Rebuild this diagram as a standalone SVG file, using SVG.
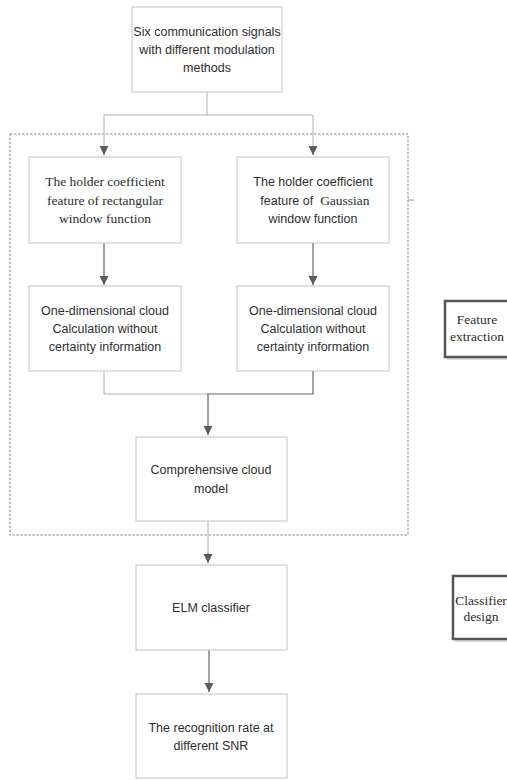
<svg xmlns="http://www.w3.org/2000/svg" width="507" height="780" viewBox="0 0 507 780">
<defs>
<marker id="a" markerWidth="10" markerHeight="10" refX="9" refY="5" orient="auto" markerUnits="userSpaceOnUse" viewBox="0 0 10 10">
<path d="M0,0.5 L9,5 L0,9.5 Z" fill="#5a5a5a"/>
</marker>
</defs>
<style>
.box{fill:#fff;stroke:#c4c4c4;stroke-width:1}
.sans{font-family:"Liberation Sans","DejaVu Sans",sans-serif;font-size:12.5px;fill:#2e2e2e;text-anchor:middle}
.serif{font-family:"Liberation Serif","DejaVu Serif",serif;font-size:13.5px;fill:#2e2e2e;text-anchor:middle}
.lt{fill:none;stroke:#b0b0b0;stroke-width:1}
.dk{fill:none;stroke:#666;stroke-width:1.2}
.lab{fill:#fff;stroke:#555;stroke-width:2.5}
</style>
<rect width="507" height="780" fill="#fff"/>
<rect x="10" y="134" width="398" height="401" fill="none" stroke="#888" stroke-width="1" stroke-dasharray="2.5,1.5"/>
<line x1="408" y1="200" x2="414" y2="200" stroke="#999" stroke-width="1"/>
<g id="connectors">
<polyline class="lt" points="207,92 207,115 104,115 104,148"/>
<polyline class="lt" points="207,115 313,115 313,148"/>
<line class="dk" x1="104" y1="148" x2="104" y2="155" marker-end="url(#a)"/>
<line class="dk" x1="313" y1="148" x2="313" y2="155" marker-end="url(#a)"/>
<line class="dk" x1="104" y1="243" x2="104" y2="285" marker-end="url(#a)"/>
<line class="dk" x1="313" y1="243" x2="313" y2="285" marker-end="url(#a)"/>
<polyline class="lt" points="104,371 104,394 208,394"/>
<polyline class="dk" points="313,371 313,394 208,394 208,435" marker-end="url(#a)"/>
<line class="lt" x1="208" y1="521" x2="208" y2="555"/>
<line class="dk" x1="208" y1="553" x2="208" y2="563" marker-end="url(#a)"/>
<line class="dk" x1="209" y1="650" x2="209" y2="692" marker-end="url(#a)"/>
</g>
<g id="n1">
<rect class="box" x="132" y="7" width="150" height="85"/>
<text class="sans" x="207" y="36">Six communication signals</text>
<text class="sans" x="207" y="54">with different modulation</text>
<text class="sans" x="207" y="72">methods</text>
</g>
<g id="n2">
<rect class="box" x="29" y="157" width="152" height="86"/>
<text class="serif" x="105" y="186">The holder coefficient</text>
<text class="serif" x="105" y="205">feature of rectangular</text>
<text class="serif" x="105" y="223">window function</text>
</g>
<g id="n3">
<rect class="box" x="237" y="157" width="152" height="86"/>
<text class="sans" x="313" y="186">The holder coefficient</text>
<text class="sans" x="315" y="205" xml:space="preserve">feature of  <tspan style="font-family:'Liberation Serif',serif;font-size:13.5px">Gaussian</tspan></text>
<text class="sans" x="313" y="223">window function</text>
</g>
<g id="n4">
<rect class="box" x="29" y="286" width="152" height="85"/>
<text class="sans" x="105" y="315">One-dimensional cloud</text>
<text class="sans" x="105" y="333">Calculation without</text>
<text class="sans" x="105" y="351">certainty information</text>
</g>
<g id="n5">
<rect class="box" x="237" y="286" width="152" height="85"/>
<text class="sans" x="313" y="315">One-dimensional cloud</text>
<text class="sans" x="313" y="333">Calculation without</text>
<text class="sans" x="313" y="351">certainty information</text>
</g>
<g id="n6">
<rect class="box" x="136" y="437" width="151" height="84"/>
<text class="sans" x="211" y="474">Comprehensive cloud</text>
<text class="sans" x="211" y="493">model</text>
</g>
<g id="n7">
<rect class="box" x="136" y="565" width="151" height="85"/>
<text class="sans" x="211" y="612">ELM classifier</text>
</g>
<g id="n8">
<rect class="box" x="136" y="694" width="151" height="84"/>
<text class="sans" x="211" y="732">The recognition rate at</text>
<text class="sans" x="211" y="750">different SNR</text>
</g>
<g id="n9">
<rect x="447" y="303" width="66" height="57" fill="#ddd"/>
<rect class="lab" x="445" y="301" width="66" height="56"/>
<text class="serif" x="477" y="324">Feature</text>
<text class="serif" x="477" y="341">extraction</text>
</g>
<g id="n10">
<rect x="455" y="578" width="60" height="64" fill="#ddd"/>
<rect class="lab" x="453" y="576" width="60" height="63"/>
<text class="serif" x="481" y="605">Classifier</text>
<text class="serif" x="481" y="621">design</text>
</g>
</svg>
